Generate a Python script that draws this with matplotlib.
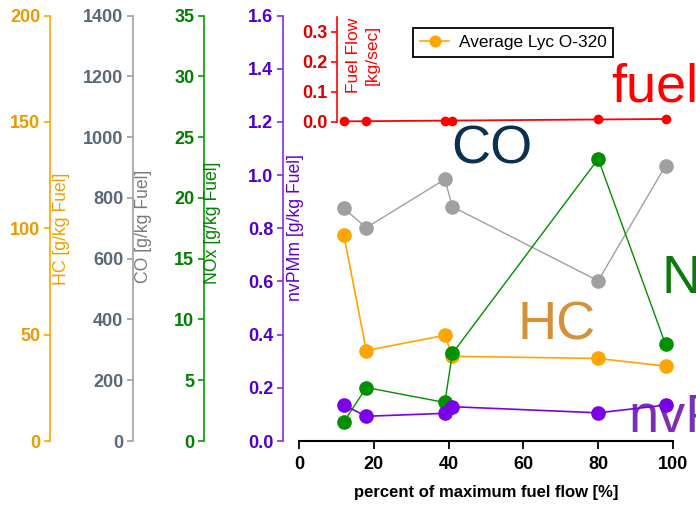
import numpy as np
import matplotlib
matplotlib.use('Agg')
import matplotlib.pyplot as plt
from matplotlib.ticker import FormatStrFormatter

plt.rcParams['font.family'] = ['Liberation Sans', 'DejaVu Sans']

# test points, percent of maximum fuel flow
pct_fuel = [12, 18, 39, 41, 80, 98]

# emission indices, g/kg fuel
hc = [96.6, 42.5, 49.7, 39.8, 38.8, 35.2]
co = [765, 702, 861, 771, 527, 906]
nox = [1.58, 4.4, 3.17, 7.2, 23.2, 7.95]
nvpm = [0.135, 0.093, 0.104, 0.129, 0.106, 0.135]

# fuel flow, kg/sec
fuel_flow = [0.0011, 0.0017, 0.0036, 0.0038, 0.0074, 0.0090]

hc_ticks = np.arange(0, 201, 50)
co_ticks = np.arange(0, 1401, 200)
nox_ticks = np.arange(0, 36, 5)
nvpm_ticks = np.arange(0, 1.61, 0.2)
fuel_ticks = np.arange(0, 0.31, 0.1)
x_ticks = np.arange(0, 101, 20)

W, H = 696, 505


def fx(px):
    return px / W


def fy(py):
    return 1 - py / H


def style_left(a, color, label_color, ticks, lim, fmt, pos=None):
    for s in ['top', 'right', 'bottom']:
        a.spines[s].set_visible(False)
    a.spines['left'].set_visible(True)
    a.spines['left'].set_color(color)
    a.spines['left'].set_linewidth(1.2)
    if pos is not None:
        a.spines['left'].set_position(('axes', pos))
    a.yaxis.set_ticks_position('left')
    a.set_ylim(*lim)
    a.set_yticks(ticks)
    a.yaxis.set_major_formatter(FormatStrFormatter(fmt))
    a.tick_params(axis='y', colors=color, labelcolor=label_color, direction='out',
                  length=4, width=1.2, pad=3, labelsize=13)
    for t in a.get_yticklabels():
        t.set_fontweight('bold')


fig = plt.figure(figsize=(6.96, 5.05), dpi=100)
ax = fig.add_axes([fx(283), fy(441), fx(673) - fx(283), fy(15.5) - fy(441)])
ax.set_xlim(-4.28, 100)

ax_co = ax.twinx()
ax_hc = ax.twinx()
ax_nox = ax.twinx()

style_left(ax_hc, '#ffa500', '#eb9a00', hc_ticks, (0, 200), '%d', -0.5974)
style_left(ax_co, '#a0a0a0', '#5a6878', co_ticks, (0, 1400), '%d', -0.3846)
style_left(ax_nox, '#00a000', '#008000', nox_ticks, (0, 35), '%d', -0.2026)
style_left(ax, '#8a2be2', '#5000c8', nvpm_ticks, (0, 1.6), '%.1f')

ax.spines['bottom'].set_visible(True)
ax.spines['bottom'].set_color('black')
ax.spines['bottom'].set_linewidth(1.5)
ax.spines['bottom'].set_bounds(0, 100)
ax.set_xticks(x_ticks)
ax.tick_params(axis='x', direction='out', length=5.5, width=1.3, pad=5, labelsize=13)
for t in ax.get_xticklabels():
    t.set_fontweight('bold')

ax_co.plot(pct_fuel, co, '-o', color='#a0a0a0', lw=1.0, ms=9.5, clip_on=False)
hc_line, = ax_hc.plot(pct_fuel, hc, '-o', color='#ffa500', lw=1.2, ms=9.5, clip_on=False)
ax_nox.plot(pct_fuel, nox, '-o', color='#009000', lw=1.0, ms=9.5, clip_on=False)
ax.plot(pct_fuel, nvpm, '-o', color='#7a00e8', lw=1.2, ms=9.5, clip_on=False)

ax_co.set_zorder(1)
ax_hc.set_zorder(2)
ax_nox.set_zorder(3)
ax.set_zorder(4)
ax.patch.set_visible(False)

# fuel flow inset along the top
ax_fuel = fig.add_axes([fx(337), fy(121.7), fx(673) - fx(337), fy(16.7) - fy(121.7)])
ax_fuel.set_zorder(5)
ax_fuel.patch.set_visible(False)
ax_fuel.set_xlim(10.16, 100)
style_left(ax_fuel, '#ff0000', '#dd0000', fuel_ticks, (0, 0.35), '%.1f')
ax_fuel.set_xticks([])
ax_fuel.plot(pct_fuel, fuel_flow, '-o', color='#ff0000', lw=1.3, ms=6, clip_on=False)

# axis titles
ylab = dict(rotation=90, ha='center', va='center', fontsize=12.7)
fig.text(fx(62), fy(228.5), 'HC [g/kg Fuel]', color='#f0a000', **ylab)
fig.text(fx(143), fy(226.5), 'CO [g/kg Fuel]', color='#7a7a7a', **ylab)
fig.text(fx(213), fy(222.5), 'NOx [g/kg Fuel]', color='#008000', **ylab)
fig.text(fx(295), fy(228), 'nvPMm [g/kg Fuel]', color='#6000d0', **ylab)
fig.text(fx(363), fy(55), 'Fuel Flow\n[kg/sec]', color='#ff0000', rotation=90,
         ha='center', va='center', fontsize=12.5, linespacing=1.35, multialignment='center')
fig.text(fx(486), fy(493), 'percent of maximum fuel flow [%]', ha='center', va='center',
         fontsize=12, fontweight='bold')

# series names
big = dict(fontsize=39, ha='left', va='baseline')
fig.text(fx(451), fy(163), 'CO', color='#0b3050', **big)
fig.text(fx(611), fy(102), 'fuel', color='#ff0000', **big)
fig.text(fx(661), fy(293), 'N', color='#0a7a0a', **big)
fig.text(fx(518), fy(340), 'HC', color='#d4913c', **big)
fig.text(fx(628), fy(432), 'nvP', color='#7b2fb5', **big)

leg = fig.legend([hc_line], ['Average Lyc O-320'], loc='upper left',
                 bbox_to_anchor=(fx(413), fy(28)), borderaxespad=0, frameon=True,
                 fancybox=False, edgecolor='black', framealpha=1, fontsize=12.4,
                 handlelength=1.7, handletextpad=0.55, borderpad=0.4, numpoints=1,
                 markerscale=0.8)
leg.get_frame().set_linewidth(1.3)
leg.set_zorder(10)

fig.savefig('out.png', dpi=100)
